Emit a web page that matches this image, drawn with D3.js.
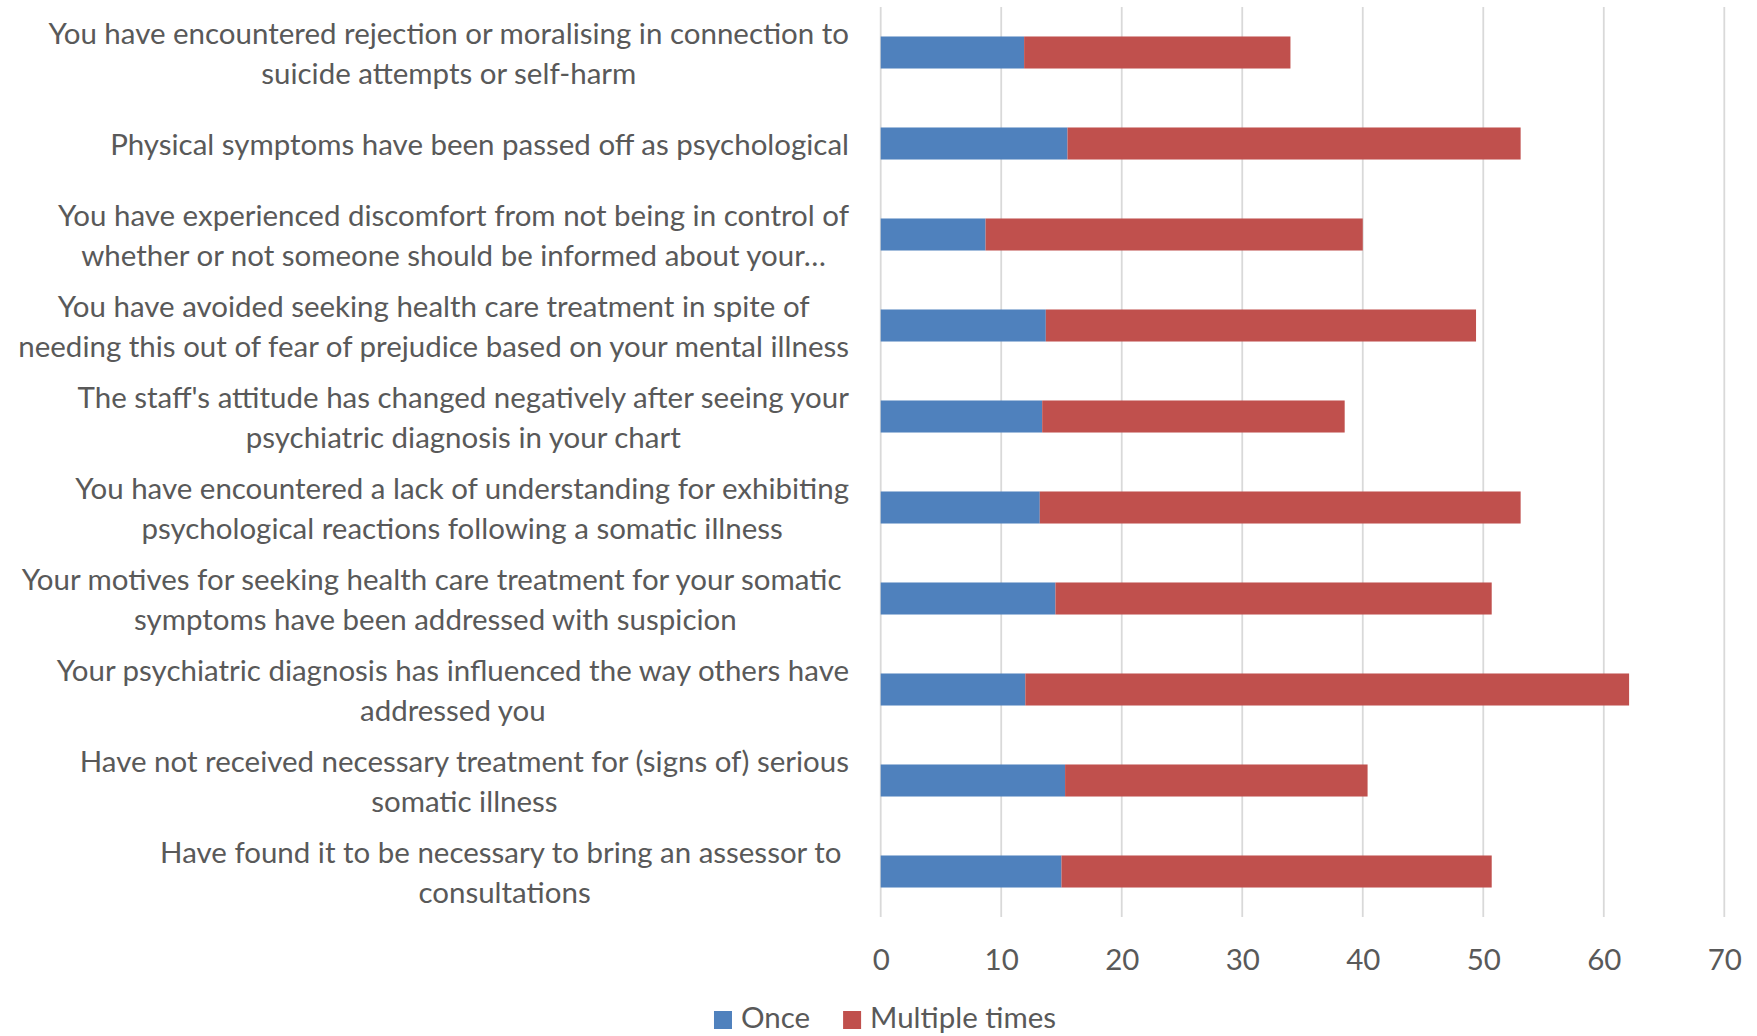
<!DOCTYPE html>
<html>
<head>
<meta charset="utf-8">
<script src="https://cdn.jsdelivr.net/npm/d3@7"></script>
<style>
  body { margin: 0; background: #fff; }
  svg text { font-family: "Liberation Sans Narrow", "Lato", sans-serif; fill: #595959; white-space: pre; }
</style>
</head>
<body>
<div id="chart"></div>
<script>
// Category labels (line breaks as in the original)
const categories = [
    "You have encountered rejection or moralising in connection to\nsuicide attempts or self-harm",
    "Physical symptoms have been passed off as psychological",
    "You have experienced discomfort from not being in control of\nwhether or not someone should be informed about your…",
    "You have avoided seeking health care treatment in spite of\nneeding this out of fear of prejudice based on your mental illness",
    "The staff's attitude has changed negatively after seeing your\npsychiatric diagnosis in your chart",
    "You have encountered a lack of understanding for exhibiting\npsychological reactions following a somatic illness",
    "Your motives for seeking health care treatment for your somatic \nsymptoms have been addressed with suspicion",
    "Your psychiatric diagnosis has influenced the way others have\naddressed you",
    "Have not received necessary treatment for (signs of) serious\nsomatic illness",
    "Have found it to be necessary to bring an assessor to \nconsultations"
];
const once = [11.9, 15.5, 8.7, 13.7, 13.4, 13.2, 14.5, 12.0, 15.3, 15.0];
const multipleTimes = [22.1, 37.6, 31.3, 35.7, 25.1, 39.9, 36.2, 50.1, 25.1, 35.7];
const xTicks = [0, 10, 20, 30, 40, 50, 60, 70];
const seriesNames = ["Once", "Multiple times"];
const seriesColors = ["#4f81bd", "#c0504d"];

const W = 1757, H = 1036;
const margin = {top: 7, right: 32.7, bottom: 119, left: 880.7};

const svg = d3.select('#chart')
    .append('svg')
    .attr('width', W)
    .attr('height', H);

// pick a font size so the label widths match the original
const probe = svg.append('text').style('font-size', '33px')
    .text('Physical symptoms have been passed off as psychological');
const fs = Math.min(34, 33 * 739 / probe.node().getComputedTextLength());
probe.remove();

const rows = categories.map((c, i) => ({cat: c, once: once[i], multiple: multipleTimes[i]}));
const stacked = d3.stack().keys(['once', 'multiple'])(rows);

const x = d3.scaleLinear()
    .domain([0, 70])
    .range([margin.left, W - margin.right]);

const y = d3.scaleBand()
    .domain(categories)
    .range([margin.top, H - margin.bottom])
    .paddingInner(0.648)
    .paddingOuter(0.324);

// gridlines
svg.append('g')
    .selectAll('line')
    .data(xTicks)
    .enter()
    .append('line')
    .attr('x1', d => x(d))
    .attr('x2', d => x(d))
    .attr('y1', margin.top)
    .attr('y2', H - margin.bottom)
    .attr('stroke', '#d9d9d9')
    .attr('stroke-width', 1.8);

// x axis labels
const xAxis = svg.append('g')
    .attr('transform', `translate(0, ${H - margin.bottom})`)
    .call(d3.axisBottom(x).tickValues(xTicks).tickSize(0).tickPadding(0));
xAxis.select('.domain').remove();
xAxis.selectAll('text')
    .attr('y', 53)
    .attr('dy', null)
    .style('font-size', fs + 'px');

// bars
svg.selectAll('.series')
    .data(stacked)
    .enter()
    .append('g')
    .attr('class', 'series')
    .attr('fill', (d, i) => seriesColors[i])
    .selectAll('rect')
    .data(d => d)
    .enter()
    .append('rect')
    .attr('x', d => x(d[0]))
    .attr('y', d => y(d.data.cat))
    .attr('width', d => x(d[1]) - x(d[0]))
    .attr('height', y.bandwidth());

// category labels: block right-aligned, lines centred inside it
const labelRight = 849;
const lineGap = 40;
categories.forEach(cat => {
    const lines = cat.split('\n');
    const g = svg.append('g');
    const texts = lines.map(l => g.append('text').style('font-size', fs + 'px').text(l));
    const blockW = d3.max(texts, t => t.node().getComputedTextLength());
    const cy = y(cat) + y.bandwidth() / 2;
    texts.forEach((t, i) => {
        t.attr('x', labelRight - blockW / 2)
            .attr('text-anchor', 'middle')
            .attr('y', cy + 11 + (i - (lines.length - 1) / 2) * lineGap);
    });
});

// legend
const legend = svg.append('g');
let lx = 0;
seriesNames.forEach((name, i) => {
    legend.append('rect')
        .attr('x', lx)
        .attr('y', 1011)
        .attr('width', 18)
        .attr('height', 18)
        .attr('fill', seriesColors[i]);
    const t = legend.append('text')
        .attr('x', lx + 27)
        .attr('y', 1028)
        .style('font-size', fs + 'px')
        .text(name);
    lx += 27 + t.node().getComputedTextLength() + 33;
});
const legendW = lx - 33;
legend.attr('transform', `translate(${885 - legendW / 2}, 0)`);
</script>
</body>
</html>
